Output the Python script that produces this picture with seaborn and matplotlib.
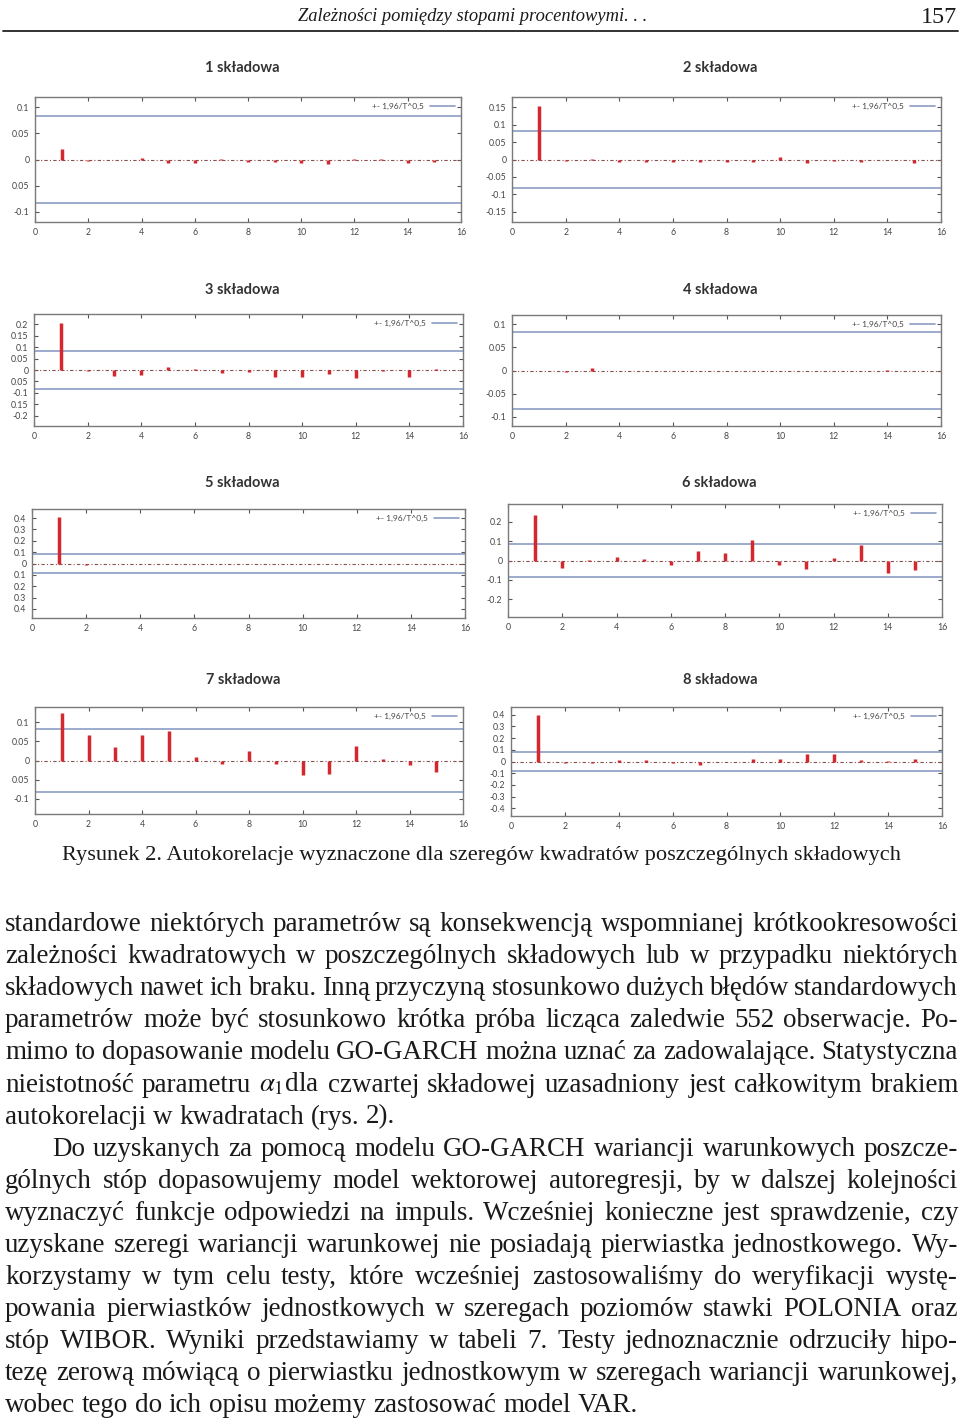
import numpy as np
import matplotlib
matplotlib.use("Agg")
import matplotlib.pyplot as plt
import seaborn as sns

W, H = 960, 1423

# --- dane: autokorelacje kwadratow skladowych, opoznienia 1..15 ---
lags = list(range(1, 16))
acf1 = [0.021, -0.002, 0.0, 0.002, -0.006, -0.007, 0.001, -0.005, -0.004, -0.006, -0.008, 0.001, 0.001, -0.006, -0.005]
acf2 = [0.155, -0.004, 0.002, -0.006, -0.008, -0.008, -0.007, -0.006, -0.008, 0.006, -0.009, -0.004, -0.006, -0.002, -0.009]
acf3 = [0.204, -0.006, -0.027, -0.022, 0.012, 0.004, -0.015, -0.010, -0.030, -0.030, -0.018, -0.035, -0.005, -0.030, 0.005]
acf4 = [-0.002, -0.003, 0.006, -0.001, 0.0, -0.001, 0.0, -0.001, -0.002, 0.0, 0.0, -0.001, 0.0, 0.001, 0.0]
acf5 = [0.410, -0.010, -0.003, -0.004, -0.002, -0.005, -0.003, -0.003, -0.005, -0.002, -0.006, -0.003, -0.004, -0.004, -0.006]
acf6 = [0.234, -0.039, 0.005, 0.017, 0.009, -0.022, 0.050, 0.036, 0.103, -0.024, -0.043, 0.011, 0.080, -0.062, -0.048]
acf7 = [0.123, 0.068, 0.036, 0.066, 0.076, 0.009, -0.010, 0.026, -0.008, -0.039, -0.036, 0.038, 0.004, -0.011, -0.029]
acf8 = [0.395, -0.015, -0.010, 0.015, 0.010, -0.015, -0.030, -0.008, 0.025, 0.020, 0.066, 0.065, 0.015, 0.003, 0.025]
acfs = [acf1, acf2, acf3, acf4, acf5, acf6, acf7, acf8]

band = 1.96 / np.sqrt(552)
titles = ["1 składowa", "2 składowa", "3 składowa", "4 składowa",
          "5 składowa", "6 składowa", "7 składowa", "8 składowa"]
ylims = [0.12, 0.18, 0.245, 0.12, 0.48, 0.29, 0.14, 0.465]
yticks = [
    [-0.1, -0.05, 0, 0.05, 0.1],
    [-0.15, -0.1, -0.05, 0, 0.05, 0.1, 0.15],
    [-0.2, -0.15, -0.1, -0.05, 0, 0.05, 0.1, 0.15, 0.2],
    [-0.1, -0.05, 0, 0.05, 0.1],
    [-0.4, -0.3, -0.2, -0.1, 0, 0.1, 0.2, 0.3, 0.4],
    [-0.2, -0.1, 0, 0.1, 0.2],
    [-0.1, -0.05, 0, 0.05, 0.1],
    [-0.4, -0.3, -0.2, -0.1, 0, 0.1, 0.2, 0.3, 0.4],
]
# etykiety tak jak na skanie (czesc minusow zgubiona)
ylabels = [
    ["-0.1", "0.05", "0", "0.05", "0.1"],
    ["-0.15", "-0.1", "-0.05", "0", "0.05", "0.1", "0.15"],
    ["-0.2", "0.15", "-0.1", "0.05", "0", "0.05", "0.1", "0.15", "0.2"],
    ["-0.1", "-0.05", "0", "0.05", "0.1"],
    ["0.4", "0.3", "0.2", "0.1", "0", "0.1", "0.2", "0.3", "0.4"],
    ["-0.2", "-0.1", "0", "0.1", "0.2"],
    ["-0.1", "0.05", "0", "0.05", "0.1"],
    ["-0.4", "-0.3", "-0.2", "-0.1", "0", "0.1", "0.2", "0.3", "0.4"],
]
xticks = list(range(0, 17, 2))

# polozenia osi w pikselach: (lewo, gora, prawo, dol)
boxes = [
    (35, 97, 461, 222), (512, 97, 941, 222),
    (34, 314, 463, 426), (512, 315, 941, 426),
    (32, 509, 465, 618), (508, 504, 942, 617),
    (35, 707, 463, 814), (511, 707, 942, 816),
]

caption = "Rysunek 2. Autokorelacje wyznaczone dla szeregów kwadratów poszczególnych składowych"
header = "Zależności pomiędzy stopami procentowymi. . ."
page_no = "157"

body_lines = [
    "standardowe niektórych parametrów są konsekwencją wspomnianej krótkookresowości",
    "zależności kwadratowych w poszczególnych składowych lub w przypadku niektórych",
    "składowych nawet ich braku. Inną przyczyną stosunkowo dużych błędów standardowych",
    "parametrów może być stosunkowo krótka próba licząca zaledwie 552 obserwacje. Po-",
    "mimo to dopasowanie modelu GO-GARCH można uznać za zadowalające. Statystyczna",
    "nieistotność parametru $\\alpha_1$dla czwartej składowej uzasadniony jest całkowitym brakiem",
    "autokorelacji w kwadratach (rys. 2).",
    "Do uzyskanych za pomocą modelu GO-GARCH wariancji warunkowych poszcze-",
    "gólnych stóp dopasowujemy model wektorowej autoregresji, by w dalszej kolejności",
    "wyznaczyć funkcje odpowiedzi na impuls. Wcześniej konieczne jest sprawdzenie, czy",
    "uzyskane szeregi wariancji warunkowej nie posiadają pierwiastka jednostkowego. Wy-",
    "korzystamy w tym celu testy, które wcześniej zastosowaliśmy do weryfikacji wystę-",
    "powania pierwiastków jednostkowych w szeregach poziomów stawki POLONIA oraz",
    "stóp WIBOR. Wyniki przedstawiamy w tabeli 7. Testy jednoznacznie odrzuciły hipo-",
    "tezę zerową mówiącą o pierwiastku jednostkowym w szeregach wariancji warunkowej,",
    "wobec tego do ich opisu możemy zastosować model VAR.",
]
last_lines = {6, 15}
indent_lines = {7}

sns.set_theme(style="white")
plt.rcParams["font.family"] = ["Liberation Serif", "DejaVu Serif"]
plt.rcParams["mathtext.fontset"] = "stix"

fig = plt.figure(figsize=(W / 100, H / 100), dpi=100)
fig.patch.set_facecolor("white")
renderer = fig.canvas.get_renderer()

bar_col = "#d3282e"
band_col = "#8b9cc3"
frame_col = "#7a7a7a"
tick_font = ["Lato", "DejaVu Sans"]

for i, (acf, box) in enumerate(zip(acfs, boxes)):
    l, t, r, b = box
    ax = fig.add_axes([l / W, 1 - b / H, (r - l) / W, (b - t) / H])
    ax.axhline(band, color=band_col, lw=1.2, label="+- 1,96/T^0,5")
    ax.axhline(-band, color=band_col, lw=1.2)
    ax.axhline(0, color="#8a5050", lw=0.8, ls=(0, (3, 2, 1, 2)))
    ax.vlines(lags, 0, acf, color=bar_col, lw=2.5)
    ax.set_xlim(0, 16)
    ax.set_ylim(-ylims[i], ylims[i])
    ax.set_xticks(xticks)
    ax.set_yticks(yticks[i])
    ax.set_yticklabels(ylabels[i])
    ax.tick_params(direction="in", length=3, width=0.8, color="#555555",
                   top=True, right=True, bottom=True, left=True,
                   labelsize=6.3, labelcolor="#444444", pad=4)
    for lab in ax.get_xticklabels() + ax.get_yticklabels():
        lab.set_family(tick_font)
    for sp in ax.spines.values():
        sp.set_color(frame_col)
        sp.set_linewidth(1.0)
    ax.legend(loc="upper right", frameon=False, markerfirst=False,
              prop={"family": tick_font, "size": 6.0}, handlelength=3.0,
              borderaxespad=0.3, labelcolor="#444444")
    cx = (l + r) / 2 - 6
    ty = [68, 68, 290, 290, 483, 483, 680, 680][i]
    fig.text(cx / W, 1 - ty / H, titles[i], ha="center", va="center",
             family=["Lato", "DejaVu Sans"], fontsize=10.5, fontweight="bold",
             color="#333333")


def fit_text(s, x0, x1, y, style="normal"):
    tx = fig.text(0, 1 - y / H, s, fontsize=10, style=style, va="baseline",
                  color="#1a1a1a")
    w = tx.get_window_extent(renderer).width
    tx.set_fontsize(10 * (x1 - x0) / w)
    tx.set_x(x0 / W)
    return tx


# naglowek strony
fit_text(header, 298, 648, 21, style="italic")
fit_text(page_no, 921, 957, 23)
fig.add_artist(plt.Line2D([3 / W, 958 / W], [1 - 31 / H, 1 - 31 / H],
                          color="#222222", lw=1.3))

# podpis rysunku
fit_text(caption, 62, 900, 860)

# tekst glowny, wyjustowany
x_left, x_right = 5, 958
space10 = 10 * 100 / 72 * 0.25
min_space10 = 10 * 100 / 72 * 0.2


def word_widths(words, size):
    out = []
    for w in words:
        p = fig.text(0, 0, w, fontsize=size)
        out.append(p.get_window_extent(renderer).width)
        p.remove()
    return out


# wielkosc czcionki: do ostatniego wiersza, ale tak, by zadny wiersz nie wystawal
cand = []
w_last = word_widths(body_lines[-1].split(" "), 10)
cand.append(10 * (657 - 5) / (sum(w_last) + space10 * (len(w_last) - 1)))
for k, line in enumerate(body_lines):
    if k in last_lines:
        continue
    ws = word_widths(line.split(" "), 10)
    avail = x_right - x_left - (47 if k in indent_lines else 0)
    cand.append(10 * avail / (sum(ws) + min_space10 * (len(ws) - 1)))
fs = min(cand)

for k, line in enumerate(body_lines):
    y = 931 + 32.1 * k
    x0 = x_left + (47 if k in indent_lines else 0)
    words = line.split(" ")
    texts = [fig.text(0, 1 - y / H, w, fontsize=fs, va="baseline", color="#1a1a1a")
             for w in words]
    widths = [tx.get_window_extent(renderer).width for tx in texts]
    if k in last_lines:
        gap = space10 * fs / 10
    else:
        gap = (x_right - x0 - sum(widths)) / (len(words) - 1)
    x = x0
    for tx, w in zip(texts, widths):
        tx.set_x(x / W)
        x += w + gap

fig.savefig("out.png", dpi=100, facecolor="white")
